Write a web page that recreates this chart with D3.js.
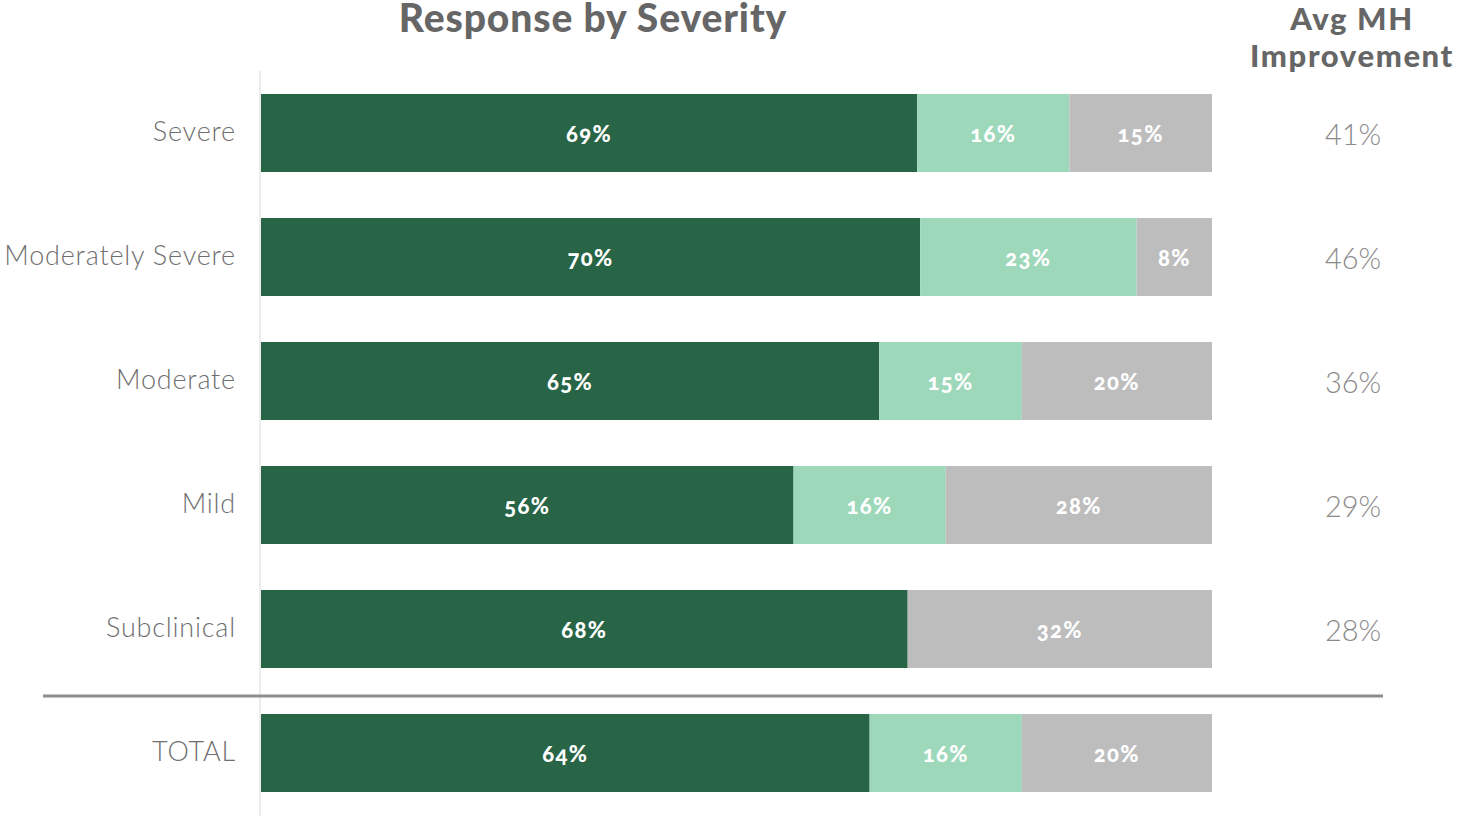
<!DOCTYPE html>
<html>
<head>
<meta charset="utf-8">
<script src="https://cdn.jsdelivr.net/npm/d3@7"></script>
<style>
  html, body { margin: 0; padding: 0; background: #fff; }
  svg { display: block; }
</style>
</head>
<body>
<svg id="chart" width="1460" height="816"></svg>
<script>
const categories = ["Severe", "Moderately Severe", "Moderate", "Mild", "Subclinical", "TOTAL"];
const responded = [69, 70, 65, 56, 68, 64];
const partial = [16, 23, 15, 16, 0, 16];
const noResponse = [15, 8, 20, 28, 32, 20];
const avgImprovement = ["41%", "46%", "36%", "29%", "28%", null];
const seriesKeys = ["responded", "partial", "noResponse"];
const seriesColors = ["#286446", "#9dd8bb", "#bdbdbd"];

const rows = categories.map((c, i) => ({
  category: c, responded: responded[i], partial: partial[i], noResponse: noResponse[i]
}));

const svg = d3.select("#chart");
const x = d3.scaleLinear().domain([0, 1]).range([261, 1212]);
const y = d3.scaleBand().domain(categories).range([71, 815])
  .paddingInner(0.371).paddingOuter(0.1855);

const stack = d3.stack().keys(seriesKeys).offset(d3.stackOffsetExpand);
const stacked = stack(rows);
const color = d3.scaleOrdinal().domain(seriesKeys).range(seriesColors);

// vertical baseline
svg.append("line")
  .attr("x1", 260).attr("x2", 260).attr("y1", 71).attr("y2", 816)
  .attr("stroke", "#e6e6e6").attr("stroke-width", 1.5);

const groups = svg.append("g").selectAll("g").data(stacked).join("g")
  .attr("fill", d => color(d.key));

groups.selectAll("rect").data(d => d.map(v => ({v, key: d.key}))).join("rect")
  .attr("x", d => x(d.v[0]))
  .attr("width", d => x(d.v[1]) - x(d.v[0]))
  .attr("y", d => y(d.v.data.category))
  .attr("height", y.bandwidth());

// segment labels
const labelG = svg.append("g");
stacked.forEach(s => {
  s.forEach(v => {
    const val = v.data[s.key];
    if (!val) return;
    labelG.append("text")
      .attr("x", (x(v[0]) + x(v[1])) / 2)
      .attr("y", y(v.data.category) + y.bandwidth() / 2 + 1)
      .attr("dy", "0.36em")
      .attr("text-anchor", "middle")
      .attr("fill", "#fff")
      .attr("font-family", "Lato, sans-serif")
      .attr("font-weight", 900)
      .attr("font-size", 22)
      .attr("letter-spacing", 1.4)
      .style("font-feature-settings", "'onum' 1")
      .text(val + "%");
  });
});

// category labels
svg.append("g").selectAll("text").data(categories).join("text")
  .attr("x", 236)
  .attr("y", d => y(d) + y.bandwidth() / 2 - 2)
  .attr("dy", "0.36em")
  .attr("text-anchor", "end")
  .attr("fill", "#6f6f6f")
  .attr("font-family", "Lato, sans-serif")
  .attr("font-weight", 300)
  .attr("font-size", 27)
  .attr("letter-spacing", 0.8)
  .text(d => d);

// avg improvement
svg.append("g").selectAll("text").data(categories.filter((c, i) => avgImprovement[i])).join("text")
  .attr("x", 1353)
  .attr("y", d => y(d) + y.bandwidth() / 2 + 2)
  .attr("dy", "0.36em")
  .attr("text-anchor", "middle")
  .attr("fill", "#8a8a8a")
  .attr("font-family", "Lato, sans-serif")
  .attr("font-weight", 300)
  .attr("font-size", 29)
  .text(d => avgImprovement[categories.indexOf(d)]);

// separator
svg.append("line")
  .attr("x1", 43).attr("x2", 1383).attr("y1", 696).attr("y2", 696)
  .attr("stroke", "#8c8c8c").attr("stroke-width", 3);

// title
svg.append("text")
  .attr("x", 593).attr("y", 32)
  .attr("text-anchor", "middle")
  .attr("fill", "#666")
  .attr("font-family", "Lato, sans-serif")
  .attr("font-weight", 900)
  .attr("font-size", 39)
  .attr("letter-spacing", 0.9)
  .text("Response by Severity");

const hdr = svg.append("text")
  .attr("text-anchor", "middle")
  .attr("fill", "#666")
  .attr("font-family", "Lato, sans-serif")
  .attr("font-weight", 900)
  .attr("font-size", 31)
  .attr("letter-spacing", 1.6);
hdr.append("tspan").attr("x", 1352).attr("y", 30).text("Avg MH");
hdr.append("tspan").attr("x", 1352).attr("y", 67).text("Improvement");
</script>
</body>
</html>
